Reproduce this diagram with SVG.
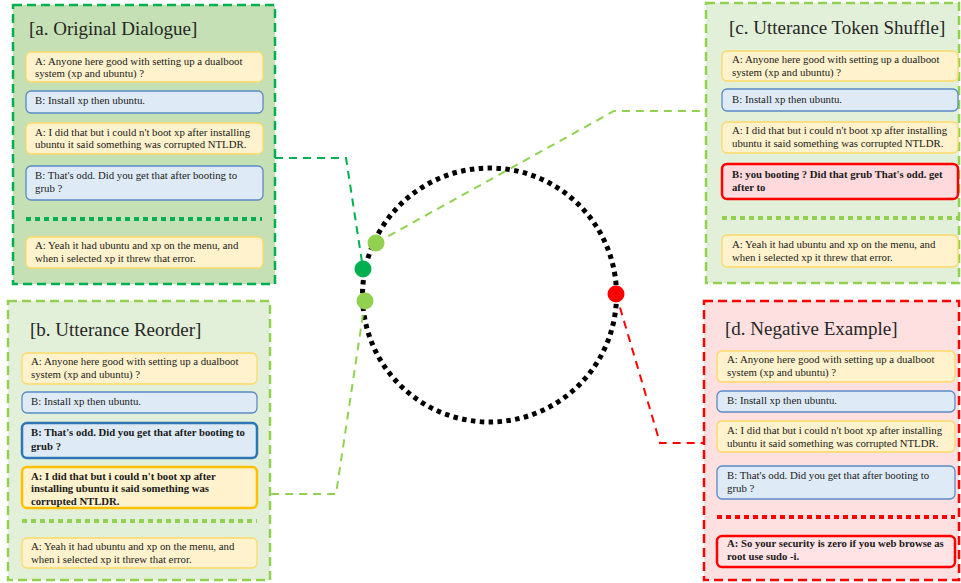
<svg xmlns="http://www.w3.org/2000/svg" width="961" height="583" viewBox="0 0 961 583">
<style>
.t{font-family:"Liberation Serif","Tinos","DejaVu Serif",serif;font-size:10.8px;fill:#1a1a1a}
.b{font-weight:bold;font-size:10.7px}
.ttl{font-family:"Liberation Serif","Tinos","DejaVu Serif",serif;font-size:19px;fill:#262626}
.ya{fill:#fff2cc;stroke:#ffd966;stroke-width:1.3}
.yb{fill:#fff2cc;stroke:#ffc000;stroke-width:2.5}
.ba{fill:#deebf7;stroke:#5a8ac6;stroke-width:1.3}
.bb{fill:#deebf7;stroke:#2e75b6;stroke-width:2.5}
.rb{fill:#ffd9dc;stroke:#ff0000;stroke-width:2.5}
.pa{fill:#c5e0b4;stroke:#00b050;stroke-width:2.5;stroke-dasharray:9 5}
.pl{fill:#e2f0d9;stroke:#92d050;stroke-width:2.5;stroke-dasharray:9 5}
.pr{fill:#ffe0e0;stroke:#ff0000;stroke-width:2.5;stroke-dasharray:9 5}
.sep{fill:none;stroke-width:4;stroke-dasharray:5 4}
.con{fill:none;stroke-width:2;stroke-dasharray:8 6}
</style>

<g id="ring">
<circle cx="489.5" cy="295" r="127" fill="none" stroke="#000" stroke-width="5" stroke-dasharray="4.5 4.4"/>
</g>

<g id="connectors">
<path class="con" stroke="#00b050" d="M275,158 H346 L362,262"/>
<path class="con" stroke="#92d050" d="M376,243 L614,111 H706"/>
<path class="con" stroke="#92d050" d="M365,301 L336,494 H271"/>
<path class="con" stroke="#ff0000" d="M616,294 L660,443 H704"/>
</g>

<g id="points">
<circle cx="376" cy="243" r="8.5" fill="#92d050"/>
<circle cx="363" cy="269" r="8.5" fill="#00b050"/>
<circle cx="365" cy="301" r="8.5" fill="#92d050"/>
<circle cx="616" cy="294" r="8.5" fill="#ff0000"/>
</g>

<g id="panel-a">
<rect class="pa" x="13" y="5" width="262" height="279"/>
<text class="ttl" x="29" y="35">[a. Original Dialogue]</text>
<rect class="ya" x="26" y="52" width="237" height="30" rx="5"/>
<text class="t" x="35" y="64.5">A: Anyone here good with setting up a dualboot</text>
<text class="t" x="35" y="76.5">system (xp and ubuntu) ?</text>
<rect class="ba" x="26" y="91" width="237" height="22" rx="5"/>
<text class="t" x="35" y="104">B: Install xp then ubuntu.</text>
<rect class="ya" x="26" y="123" width="237" height="31" rx="5"/>
<text class="t" x="35" y="135.5">A: I did that but i could n't boot xp after installing</text>
<text class="t" x="35" y="148">ubuntu it said something was corrupted NTLDR.</text>
<rect class="ba" x="26" y="166" width="237" height="34" rx="5"/>
<text class="t" x="35" y="179">B: That's odd. Did you get that after booting to</text>
<text class="t" x="35" y="192">grub ?</text>
<line class="sep" stroke="#00b050" x1="26" y1="219" x2="262" y2="219"/>
<rect class="ya" x="26" y="237" width="237" height="31" rx="5"/>
<text class="t" x="35" y="249">A: Yeah it had ubuntu and xp on the menu, and</text>
<text class="t" x="35" y="261.5">when i selected xp it threw that error.</text>
</g>

<g id="panel-b">
<rect class="pl" x="8" y="301" width="262" height="279"/>
<text class="ttl" x="30" y="336">[b. Utterance Reorder]</text>
<rect class="ya" x="22" y="353" width="235" height="31" rx="5"/>
<text class="t" x="31" y="365">A: Anyone here good with setting up a dualboot</text>
<text class="t" x="31" y="378">system (xp and ubuntu) ?</text>
<rect class="ba" x="22" y="392" width="235" height="21" rx="5"/>
<text class="t" x="31" y="405">B: Install xp then ubuntu.</text>
<rect class="bb" x="22" y="423" width="235" height="35" rx="5"/>
<text class="t b" x="31" y="435.5">B: That's odd. Did you get that after booting to</text>
<text class="t b" x="31" y="450">grub ?</text>
<rect class="yb" x="22" y="467" width="235" height="41" rx="5"/>
<text class="t b" x="31" y="479.5">A: I did that but i could n't boot xp after</text>
<text class="t b" x="31" y="492">installing ubuntu it said something was</text>
<text class="t b" x="31" y="504.5">corrupted NTLDR.</text>
<line class="sep" stroke="#92d050" x1="22" y1="521" x2="257" y2="521"/>
<rect class="ya" x="22" y="538" width="235" height="30" rx="5"/>
<text class="t" x="31" y="550">A: Yeah it had ubuntu and xp on the menu, and</text>
<text class="t" x="31" y="562.5">when i selected xp it threw that error.</text>
</g>

<g id="panel-c">
<rect class="pl" x="706" y="3" width="253" height="280"/>
<text class="ttl" x="729" y="34">[c. Utterance Token Shuffle]</text>
<rect class="ya" x="722" y="51" width="236" height="30" rx="5"/>
<text class="t" x="732" y="63">A: Anyone here good with setting up a dualboot</text>
<text class="t" x="732" y="75.5">system (xp and ubuntu) ?</text>
<rect class="ba" x="722" y="89" width="236" height="22" rx="5"/>
<text class="t" x="732" y="102.5">B: Install xp then ubuntu.</text>
<rect class="ya" x="722" y="122" width="236" height="31" rx="5"/>
<text class="t" x="732" y="134">A: I did that but i could n't boot xp after installing</text>
<text class="t" x="732" y="146.5">ubuntu it said something was corrupted NTLDR.</text>
<rect class="rb" x="722" y="164" width="236" height="35" rx="5"/>
<text class="t b" x="732" y="177.5">B: you booting ? Did that grub That's odd. get</text>
<text class="t b" x="732" y="191">after to</text>
<line class="sep" stroke="#92d050" x1="722" y1="218" x2="958" y2="218"/>
<rect class="ya" x="722" y="235" width="236" height="32" rx="5"/>
<text class="t" x="732" y="248">A: Yeah it had ubuntu and xp on the menu, and</text>
<text class="t" x="732" y="261">when i selected xp it threw that error.</text>
</g>

<g id="panel-d">
<rect class="pr" x="704" y="301" width="255" height="279"/>
<text class="ttl" x="725" y="335">[d. Negative Example]</text>
<rect class="ya" x="717" y="351" width="238" height="31" rx="5"/>
<text class="t" x="727" y="363">A: Anyone here good with setting up a dualboot</text>
<text class="t" x="727" y="376">system (xp and ubuntu) ?</text>
<rect class="ba" x="717" y="391" width="238" height="21" rx="5"/>
<text class="t" x="727" y="404">B: Install xp then ubuntu.</text>
<rect class="ya" x="717" y="421" width="238" height="31" rx="5"/>
<text class="t" x="727" y="434">A: I did that but i could n't boot xp after installing</text>
<text class="t" x="727" y="447">ubuntu it said something was corrupted NTLDR.</text>
<rect class="ba" x="717" y="466" width="238" height="33" rx="5"/>
<text class="t" x="727" y="478.5">B: That's odd. Did you get that after booting to</text>
<text class="t" x="727" y="492">grub ?</text>
<line class="sep" stroke="#ff0000" x1="717" y1="517" x2="955" y2="517"/>
<rect class="rb" x="717" y="536" width="238" height="31" rx="5" style="fill:#ffe3e5"/>
<text class="t b" x="727" y="547">A: So your security is zero if you web browse as</text>
<text class="t b" x="727" y="560">root use sudo -i.</text>
</g>
</svg>
